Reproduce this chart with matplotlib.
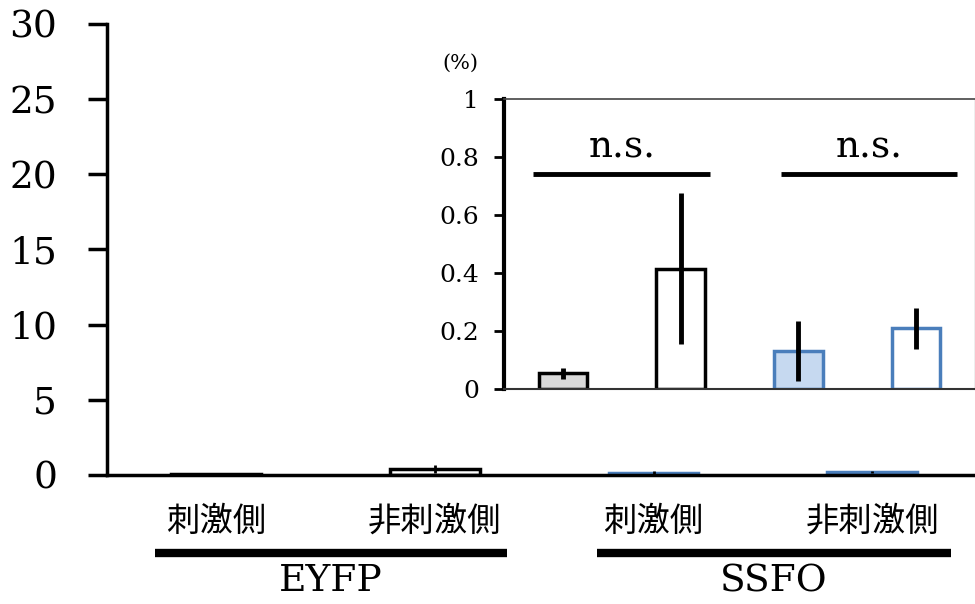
import matplotlib.pyplot as plt

plt.rcParams['font.family'] = ['DejaVu Serif', 'Noto Sans CJK JP']

# data (%)
groups = ['EYFP', 'SSFO']
group_spans = [(-0.28, 1.33), (1.743, 3.358)]
sides = ['刺激側', '非刺激側', '刺激側', '非刺激側']
means = [0.055, 0.415, 0.13, 0.21]
errs = [0.019, 0.26, 0.104, 0.071]
main_ticks = [0, 5, 10, 15, 20, 25, 30]
inset_ticks = [0, 0.2, 0.4, 0.6, 0.8, 1]
ns_spans = [(-0.25, 1.25), (1.85, 3.35)]

fills = ['#d9d9d9', 'white', '#c6d9f0', 'white']
edges = ['black', 'black', '#4a7ebb', '#4a7ebb']
x = range(len(means))

fig = plt.figure(figsize=(9.75, 6.04), dpi=100)

# main axes
ax = fig.add_axes([0.1097, 0.2136, 0.8903, 0.7467])
ax.bar(x, means, width=0.41, color=fills, edgecolor=edges, linewidth=2.5)
ax.errorbar(x, means, yerr=errs, fmt='none', ecolor='black', elinewidth=2, capsize=0)
ax.set_xlim(-0.5, 3.47)
ax.set_ylim(0, 30)
ax.set_yticks(main_ticks)
ax.set_yticklabels([str(t) for t in main_ticks], fontsize=27)
ax.set_xticks(list(x))
ax.set_xticklabels(sides, fontsize=24)
ax.tick_params(axis='x', length=0, pad=22)
ax.tick_params(axis='y', direction='out', length=14, width=2.5, pad=22)
for s in ['top', 'right']:
    ax.spines[s].set_visible(False)
ax.spines['left'].set_linewidth(2.5)
ax.spines['bottom'].set_linewidth(2.5)

# group lines and names under the axis
tr = ax.get_xaxis_transform()
for g, (x0, x1) in zip(groups, group_spans):
    ax.plot([x0, x1], [-0.173, -0.173], color='black', lw=6, transform=tr,
            clip_on=False, solid_capstyle='butt')
    ax.text((x0 + x1) / 2, -0.276, g, transform=tr, ha='center', va='bottom',
            fontsize=27)

# inset zoom of the same values
ins = fig.add_axes([0.5169, 0.356, 0.4831, 0.480])
ins.bar(x, means, width=0.41, color=fills, edgecolor=edges, linewidth=2.5)
ins.errorbar(x, means, yerr=errs, fmt='none', ecolor='black', elinewidth=3.5, capsize=0)
ins.set_xlim(-0.5, 3.5)
ins.set_ylim(0, 1)
ins.set_yticks(inset_ticks)
ins.set_yticklabels(['0', '0.2', '0.4', '0.6', '0.8', '1'], fontsize=18)
ins.set_xticks([])
ins.tick_params(axis='y', direction='out', length=7, width=2, pad=11)
ins.spines['left'].set_linewidth(3)
ins.spines['bottom'].set_linewidth(1.5)
ins.spines['bottom'].set_color('#333333')
ins.spines['top'].set_linewidth(1.2)
ins.spines['top'].set_color('#444444')
ins.spines['right'].set_linewidth(1)
ins.spines['right'].set_color('#aaaaaa')
ins.text(-0.092, 1.09, '(%)', transform=ins.transAxes, ha='center', va='bottom',
         fontsize=15)

# n.s. brackets
for a, b in ns_spans:
    ins.plot([a, b], [0.741, 0.741], color='black', lw=3.5, solid_capstyle='butt')
    ins.text((a + b) / 2, 0.77, 'n.s.', ha='center', va='bottom', fontsize=27)

fig.savefig('out.png', dpi=100)
